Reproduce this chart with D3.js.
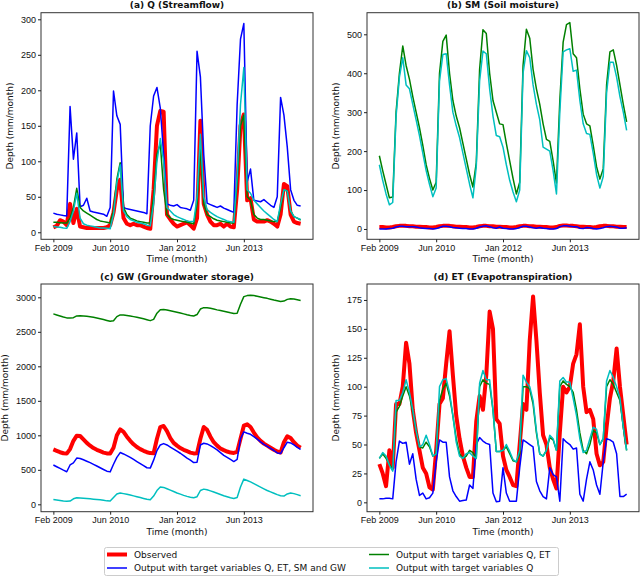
<!DOCTYPE html>
<html>
<head>
<meta charset="utf-8">
<style>
  body { margin: 0; background: #fff; }
  svg { display: block; font-family: "DejaVu Sans", sans-serif; }
  .tick text { font-size: 9px; fill: #111; }
  .tick line { stroke: #222; }
  .frame { fill: none; stroke: #333; stroke-width: 1; }
  .series { fill: none; stroke-linejoin: round; }
  .ttl { font-size: 9px; font-weight: bold; text-anchor: middle; fill: #111; }
  .lab { font-size: 9px; text-anchor: middle; fill: #111; }
  .leg { font-size: 9px; fill: #111; }
</style>
</head>
<body>
<svg width="640" height="577"></svg>
<script src="https://d3js.org/d3.v7.min.js"></script>
<script>
// x tick labels (month index -> label)
var tickIdx = [0, 17, 37, 57];
var tickLabels = ["Feb 2009", "Jun 2010", "Jan 2012", "Jun 2013"];

var seriesNames = ["Observed", "Output with target variables Q, ET, SM and GW",
                   "Output with target variables Q, ET", "Output with target variables Q"];

// (a) Q streamflow
var qObs = [7, 9, 17, 15, 10, 40, 13, 33, 8, 7,
            6, 6, 6, 6, 6, 6, 7, 10, 28, 60,
            74, 20, 12, 10, 12, 10, 10, 8, 6, 5,
            60, 150, 171, 170, 25, 18, 12, 8, 10, 12,
            14, 10, 5, 20, 157, 40, 25, 15, 10, 10,
            12, 8, 12, 8, 7, 60, 150, 166, 45, 48,
            18, 15, 15, 15, 17, 15, 12, 8, 25, 68,
            65, 25, 15, 13, 12];
var qAll = [27, 25.5, 24.5, 23.5, 23, 177, 103, 140, 36, 38,
            48, 30, 28.5, 27.5, 26.5, 25.5, 22.5, 35, 199, 164,
            152, 35, 33, 32, 31, 30, 29, 28, 26, 150,
            192, 204, 175, 110, 40, 38, 37, 39, 35, 34,
            33, 31, 45, 255, 219, 110, 41, 39, 37, 35,
            37, 34, 32, 30, 28, 180, 272, 294, 71, 89,
            45, 44, 43, 46, 42, 38, 35, 50, 190, 165,
            120, 60, 45, 38, 37];
var qQET = [14, 14, 13.5, 13, 13, 20, 35, 62, 35, 30,
            27, 24, 21, 18, 16, 15, 14, 13, 30, 75,
            98, 35, 25, 20, 18, 16, 15, 14, 13, 13,
            50, 110, 125, 60, 25, 20, 18, 17, 16, 15,
            14, 13, 12, 40, 120, 40, 25, 22, 19, 17,
            16, 15, 14, 13, 13, 70, 150, 165, 50, 45,
            25, 20, 18, 18, 17, 16, 15, 15, 35, 60,
            58, 30, 22, 20, 17];
var qQ = [8, 7.5, 7, 6, 5.5, 15, 30, 55, 20, 12,
          10, 9, 8, 7, 6, 6, 5.5, 5, 25, 70,
          95, 30, 22, 18, 16, 14, 13, 12, 10, 9,
          40, 100, 132, 100, 35, 30, 25, 22, 20, 18,
          16, 15, 15, 50, 138, 50, 32, 28, 25, 22,
          20, 18, 16, 15, 14, 80, 180, 232, 60, 55,
          45, 40, 35, 30, 26, 22, 18, 15, 40, 60,
          58, 30, 22, 20, 18];

// (b) SM soil moisture
var smObs = [5, 5, 4, 4, 5, 7, 8, 8, 8, 7,
             7, 6, 6, 5, 5, 4, 4, 5, 7, 8,
             8, 8, 7, 6, 6, 5, 5, 4, 4, 5,
             7, 8, 8, 7, 7, 6, 6, 5, 5, 4,
             4, 5, 7, 8, 8, 7, 7, 6, 6, 5,
             5, 4, 4, 5, 8, 9, 9, 8, 8, 7,
             6, 6, 5, 5, 4, 5, 7, 8, 8, 7,
             7, 6, 6, 5, 5];
var smAll = [0, 0, 0, 1, 2, 5, 7, 7, 6, 6,
             6, 5, 3, 2, 1, 1, 0, 1, 4, 7,
             7, 6, 4, 3, 2, 1, 1, 0, 0, 2,
             5, 7, 8, 6, 3, 2, 5, 2, 1, 0,
             0, 1, 4, 7, 7, 5, 3, 2, 4, 2,
             1, 0, 0, 1, 6, 8, 8, 7, 6, 6,
             2, 1, 4, 3, 1, 0, 1, 3, 6, 7,
             6, 5, 2, 2, 3];
var smQET = [188, 150, 115, 80, 82, 300, 400, 470, 420, 385,
             340, 300, 260, 215, 165, 130, 100, 120, 400, 482,
             498, 400, 330, 290, 260, 220, 180, 140, 108, 170,
             410, 512, 502, 400, 330, 300, 270, 268, 220, 175,
             130, 90, 120, 420, 513, 490, 410, 360, 320, 270,
             230, 225, 175, 118, 330, 480, 525, 530, 450, 440,
             360, 295, 270, 265, 215, 160, 128, 155, 370, 455,
             460, 420, 370, 320, 275];
var smQ = [165, 125, 90, 62, 68, 290, 390, 440, 370, 360,
           320, 280, 240, 195, 150, 115, 83, 105, 380, 448,
           450, 370, 300, 265, 235, 195, 155, 115, 80, 160,
           380, 457, 450, 360, 290, 240, 237, 210, 165, 125,
           95, 70, 100, 400, 458, 440, 370, 320, 280, 210,
           205, 200, 150, 90, 300, 455, 460, 463, 405, 408,
           330, 270, 245, 243, 195, 140, 105, 135, 350, 428,
           428, 390, 340, 300, 253];

// (c) GW groundwater storage
var gwObs = [795, 775, 755, 740, 735, 800, 920, 995, 990, 940,
             890, 850, 815, 790, 770, 750, 738, 735, 820, 1000,
             1085, 1050, 980, 920, 870, 830, 800, 775, 755, 742,
             740, 950, 1120, 1135, 1060, 960, 890, 850, 815, 790,
             770, 750, 738, 740, 950, 1120, 1080, 980, 900, 850,
             810, 785, 765, 750, 745, 760, 950, 1140, 1160, 1120,
             1040, 970, 920, 880, 850, 820, 790, 765, 750, 900,
             985, 960, 900, 850, 820];
var gwAll = [570, 545, 520, 495, 472, 570, 600, 670, 665, 645,
             625, 605, 580, 555, 530, 505, 480, 470, 580, 680,
             750, 730, 705, 680, 650, 620, 590, 560, 530, 525,
             640, 780, 860, 880, 860, 830, 800, 770, 740, 705,
             670, 640, 605, 610, 860, 885, 875, 850, 820, 790,
             750, 710, 680, 650, 620, 650, 950, 1050, 1030, 1015,
             980, 945, 905, 870, 840, 810, 780, 745, 735, 820,
             900, 890, 860, 825, 795];
var gwQET = [2760, 2745, 2730, 2715, 2702, 2700, 2705, 2730, 2732, 2730,
             2725, 2718, 2710, 2700, 2690, 2678, 2665, 2652, 2660, 2720,
             2745, 2745, 2738, 2730, 2720, 2710, 2700, 2688, 2675, 2662,
             2680, 2770, 2820, 2822, 2815, 2805, 2795, 2785, 2772, 2760,
             2748, 2738, 2730, 2750, 2830, 2850, 2848, 2840, 2830, 2818,
             2808, 2798, 2788, 2775, 2765, 2770, 2900, 3010, 3025, 3030,
             3025, 3015, 3005, 2995, 2985, 2972, 2960, 2950, 2940, 2945,
             2970, 2980, 2975, 2965, 2955];
var gwQ = [70, 62, 55, 48, 45, 48, 80, 95, 92, 88,
           84, 80, 75, 70, 65, 58, 50, 48, 100, 150,
           165, 155, 145, 135, 122, 110, 98, 85, 72, 65,
           120, 200, 250, 245, 225, 205, 185, 165, 148, 130,
           115, 102, 95, 110, 200, 220, 210, 195, 178, 160,
           142, 125, 110, 95, 85, 100, 250, 365, 345, 325,
           300, 275, 250, 225, 200, 180, 160, 140, 125, 120,
           150, 165, 155, 140, 125];

// (d) ET evapotranspiration
var etObs = [33, 25, 14, 45, 30, 85, 85, 100, 138, 120,
             80, 60, 45, 30, 25, 13, 11, 45, 85, 90,
             120, 148, 110, 75, 55, 40, 30, 22, 22, 70,
             92, 80, 110, 165, 150, 72, 68, 40, 28, 22,
             15, 14, 50, 85, 80, 140, 178, 140, 95, 58,
             50, 30, 20, 12, 60, 100, 95, 100, 120, 128,
             154, 100, 78, 80, 72, 42, 32, 35, 65, 90,
             105, 133, 100, 75, 50];
var etAll = [3, 3, 3.5, 3.5, 3, 35, 53, 51, 52, 33,
             42, 20, 6, 8, 3, 4, 8, 35, 54, 52,
             52, 22, 10, 5, 1, 1.5, 2, 15, 12, 50,
             56, 53, 51, 50, 8, 0.5, 1, 30, 8, 1,
             1, 1, 30, 54, 52, 50, 48, 18, 10, 5,
             3, 30, 24, 22, 1, 55, 52, 50, 46, 47,
             7, 1, 20, 35, 28, 15, 7, 35, 55, 54,
             52, 42, 5, 5, 7];
var etQET = [38, 42, 38, 33, 28, 78, 83, 92, 100, 92,
             78, 62, 48, 47, 52, 48, 40, 42, 88, 98,
             103, 92, 75, 55, 42, 38, 40, 45, 43, 38,
             100, 106, 103, 102, 80, 44, 44, 45, 48, 42,
             36, 35, 42, 100, 100, 98, 85, 60, 42, 40,
             45, 56, 54, 45, 100, 105, 102, 100, 95, 80,
             60, 45, 42, 50, 62, 60, 50, 55, 100, 106,
             102, 95, 88, 65, 45];
var etQ = [38, 43, 40, 32, 27, 88, 88, 95, 106, 95,
           80, 62, 48, 50, 58, 50, 40, 42, 100, 106,
           107, 95, 75, 52, 40, 38, 42, 43, 40, 38,
           103, 114, 106, 106, 80, 44, 44, 45, 50, 44,
           37, 35, 45, 110, 104, 100, 88, 62, 42, 40,
           45, 58, 55, 45, 105, 108, 104, 104, 90, 75,
           55, 43, 45, 55, 65, 63, 50, 55, 105, 114,
           108, 100, 90, 65, 45];

var colors = ["#ff0000", "#0000ff", "#008000", "#00bfbf"];
var widths = [4, 1.5, 1.5, 1.5];

var panels = [
  {title: "(a) Q (Streamflow)", x0: 41, x1: 313, y0: 12.7, y1: 239.3, ylo: -9.9, yhi: 309.3,
   ticks: d3.range(0, 301, 50), data: [qObs, qAll, qQET, qQ], ylabX: 10},
  {title: "(b) SM (Soil moisture)", x0: 367, x1: 639, y0: 12.7, y1: 239.3, ylo: -26.5, yhi: 555.5,
   ticks: d3.range(0, 501, 100), data: [smObs, smAll, smQET, smQ], ylabX: 336},
  {title: "(c) GW (Groundwater storage)", x0: 41, x1: 313, y0: 284, y1: 511.7, ylo: -107, yhi: 3193,
   ticks: d3.range(0, 3001, 500), data: [gwObs, gwAll, gwQET, gwQ], ylabX: 5},
  {title: "(d) ET (Evapotranspiration)", x0: 367, x1: 639, y0: 284, y1: 511.7, ylo: -8.1, yhi: 188.8,
   ticks: d3.range(0, 176, 25), data: [etObs, etAll, etQET, etQ], ylabX: 336}
];

var svg = d3.select("svg");
var n = qObs.length;

panels.forEach(function(p) {
  var span = n - 1;
  var x = d3.scaleLinear().domain([-0.05 * span, 1.05 * span]).range([p.x0, p.x1]);
  var y = d3.scaleLinear().domain([p.ylo, p.yhi]).range([p.y1, p.y0]);
  var g = svg.append("g");

  var line = d3.line()
      .x(function(d, i) { return x(i); })
      .y(function(d) { return y(d); });

  p.data.forEach(function(vals, k) {
    g.append("path")
      .attr("class", "series")
      .attr("d", line(vals))
      .attr("stroke", colors[k])
      .attr("stroke-width", widths[k]);
  });

  g.append("rect").attr("class", "frame")
    .attr("x", p.x0).attr("y", p.y0)
    .attr("width", p.x1 - p.x0).attr("height", p.y1 - p.y0);

  var xa = g.append("g")
    .attr("transform", "translate(0," + p.y1 + ")")
    .call(d3.axisBottom(x).tickValues(tickIdx)
      .tickFormat(function(d, i) { return tickLabels[i]; })
      .tickSize(3).tickPadding(2));
  xa.select(".domain").remove();

  var ya = g.append("g")
    .attr("transform", "translate(" + p.x0 + ",0)")
    .call(d3.axisLeft(y).tickValues(p.ticks).tickFormat(d3.format("d"))
      .tickSize(3).tickPadding(2));
  ya.select(".domain").remove();

  g.append("text").attr("class", "ttl")
    .attr("x", (p.x0 + p.x1) / 2).attr("y", p.y0 - 4.5)
    .text(p.title);
  g.append("text").attr("class", "lab")
    .attr("x", (p.x0 + p.x1) / 2).attr("y", p.y1 + 23)
    .text("Time (month)");
  g.append("text").attr("class", "lab")
    .attr("transform", "translate(" + p.ylabX + "," + (p.y0 + p.y1) / 2 + ") rotate(-90)")
    .attr("dy", "0.35em")
    .text("Depth (mm/month)");
});

// legend
var leg = svg.append("g");
leg.append("rect")
  .attr("x", 104.5).attr("y", 547.5).attr("width", 454).attr("height", 28)
  .attr("rx", 2).attr("fill", "#fff").attr("stroke", "#ccc");
var legPos = [[107, 554.5], [107, 568], [369, 554.5], [369, 568]];
seriesNames.forEach(function(name, k) {
  var pos = legPos[k];
  leg.append("line")
    .attr("x1", pos[0]).attr("x2", pos[0] + 20)
    .attr("y1", pos[1]).attr("y2", pos[1])
    .attr("stroke", colors[k]).attr("stroke-width", widths[k]);
  leg.append("text").attr("class", "leg")
    .attr("x", pos[0] + 27).attr("y", pos[1]).attr("dy", "0.35em")
    .text(name);
});
</script>
</body>
</html>
